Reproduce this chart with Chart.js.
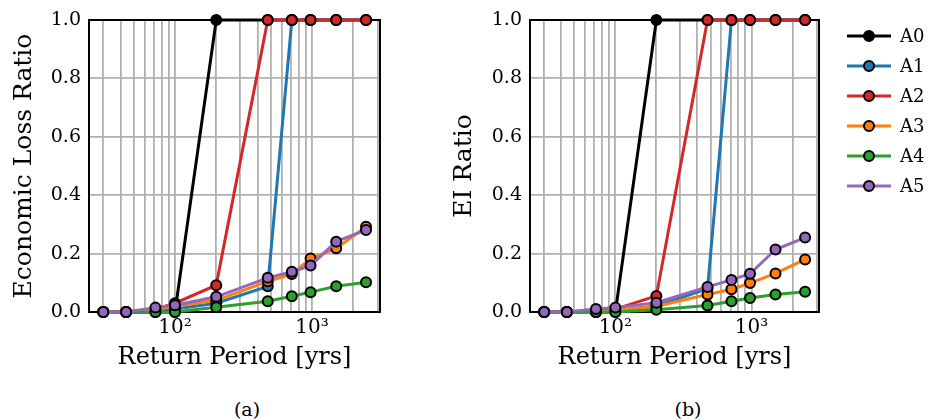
<!DOCTYPE html>
<html>
<head>
<meta charset="utf-8">
<script src="https://cdn.jsdelivr.net/npm/chart.js@4.4.1/dist/chart.umd.min.js"></script>
<style>
  html, body { margin: 0; padding: 0; background: #fff; }
  body { width: 931px; height: 420px; position: relative; overflow: hidden; font-family: "DejaVu Serif", serif; }
  canvas { position: absolute; top: 0; }
  #chartA { left: 0; }
  #chartB { left: 440px; }
  .caption { position: absolute; top: 398px; width: 60px; font-family: "DejaVu Serif", serif; font-size: 19px; line-height: 22px; text-align: center; color: #000; }
</style>
</head>
<body>
<canvas id="chartA" width="440" height="380"></canvas>
<canvas id="chartB" width="491" height="380"></canvas>
<div class="caption" style="left:217px">(a)</div>
<div class="caption" style="left:658px">(b)</div>
<script>
"use strict";

const returnPeriods = [30, 44, 72, 100, 200, 475, 712, 975, 1500, 2475];
const seriesNames = ["A0", "A1", "A2", "A3", "A4", "A5"];
const seriesColors = ["#000000", "#1f77b4", "#d62728", "#ff7f0e", "#2ca02c", "#9467bd"];

// (a) economic loss ratio
const lossA0 = [0, 0, 0, 0, 1, 1, 1, 1, 1, 1];
const lossA1 = [0, 0, 0, 0.01, 0.03, 0.088, 1, 1, 1, 1];
const lossA2 = [0, 0, 0.01, 0.03, 0.092, 1, 1, 1, 1, 1];
const lossA3 = [0, 0, 0.01, 0.02, 0.04, 0.105, 0.13, 0.183, 0.218, 0.292];
const lossA4 = [0, 0, 0, 0, 0.016, 0.037, 0.054, 0.068, 0.088, 0.102];
const lossA5 = [0, 0, 0.015, 0.023, 0.052, 0.117, 0.138, 0.159, 0.241, 0.281];

// (b) EI ratio
const eiA0 = [0, 0, 0, 0, 1, 1, 1, 1, 1, 1];
const eiA1 = [0, 0, 0, 0.005, 0.02, 0.08, 1, 1, 1, 1];
const eiA2 = [0, 0, 0.005, 0.01, 0.055, 1, 1, 1, 1, 1];
const eiA3 = [0, 0, 0, 0.005, 0.02, 0.06, 0.078, 0.099, 0.132, 0.18];
const eiA4 = [0, 0, 0, 0, 0.008, 0.022, 0.037, 0.048, 0.06, 0.069];
const eiA5 = [0, 0, 0.01, 0.015, 0.032, 0.086, 0.11, 0.131, 0.214, 0.255];

const xGridValues = [30, 40, 50, 60, 70, 80, 90, 100, 200, 300, 400, 500, 600, 700, 800, 900, 1000, 2000, 3000];
const xMajorValues = [100, 1000];
const xMajorLabels = ["10²", "10³"];
const yTickValues = [0, 0.2, 0.4, 0.6, 0.8, 1.0];

Chart.defaults.font.family = "'DejaVu Serif', serif";
Chart.defaults.color = "#000";

const framePlugin = {
  id: "frame",
  beforeDatasetsDraw(chart) {
    const { ctx, chartArea } = chart;
    ctx.save();
    ctx.strokeStyle = "#000";
    ctx.lineWidth = 2;
    ctx.strokeRect(chartArea.left, chartArea.top, chartArea.right - chartArea.left, chartArea.bottom - chartArea.top);
    ctx.restore();
  },
};

const legendPlugin = {
  id: "sideLegend",
  afterDraw(chart) {
    if (!chart.options.plugins.sideLegend || !chart.options.plugins.sideLegend.show) return;
    const ctx = chart.ctx;
    const x0 = chart.chartArea.right + 28;
    ctx.save();
    seriesNames.forEach(function (name, i) {
      const y = 36 + i * 30;
      ctx.strokeStyle = seriesColors[i];
      ctx.lineWidth = 3;
      ctx.beginPath();
      ctx.moveTo(x0, y);
      ctx.lineTo(x0 + 44, y);
      ctx.stroke();
      ctx.beginPath();
      ctx.arc(x0 + 22, y, 5, 0, Math.PI * 2);
      ctx.fillStyle = seriesColors[i];
      ctx.fill();
      ctx.lineWidth = 2;
      ctx.strokeStyle = "#000";
      ctx.stroke();
      ctx.fillStyle = "#000";
      ctx.font = "18px 'DejaVu Serif'";
      ctx.textBaseline = "middle";
      ctx.textAlign = "left";
      ctx.fillText(name, x0 + 53, y + 1);
    });
    ctx.restore();
  },
};

const makeChart = function (canvasId, yTitle, series, rightPad, yWidth, showLegend) {
  const datasets = series.map(function (values, i) {
    return {
      label: seriesNames[i],
      data: returnPeriods.map(function (rp, j) { return { x: rp, y: values[j] }; }),
      borderColor: seriesColors[i],
      backgroundColor: seriesColors[i],
      pointBackgroundColor: seriesColors[i],
      pointBorderColor: "#000",
      pointBorderWidth: 2,
      pointRadius: 5,
      borderWidth: 3,
      tension: 0,
      clip: false,
      order: seriesNames.length - 1 - i,
    };
  });

  return new Chart(document.getElementById(canvasId), {
    type: "line",
    data: { datasets: datasets },
    plugins: [framePlugin, legendPlugin],
    options: {
      responsive: false,
      animation: false,
      layout: { padding: { left: 0, top: 20, right: rightPad, bottom: 0 } },
      plugins: {
        legend: { display: false },
        tooltip: { enabled: false },
        sideLegend: { show: showLegend },
      },
      scales: {
        x: {
          type: "logarithmic",
          min: 23.6,
          max: 3130,
          afterBuildTicks(scale) {
            scale.ticks = xGridValues.map(function (v) {
              return { value: v, major: xMajorValues.indexOf(v) >= 0 };
            });
          },
          afterFit(scale) { scale.height = 68; },
          grid: { color: "#b0b0b0", lineWidth: 1.8, drawTicks: false },
          border: { display: false },
          ticks: {
            autoSkip: false,
            maxRotation: 0,
            padding: 4,
            font: { size: 20 },
            callback(value) {
              const k = xMajorValues.indexOf(value);
              return k >= 0 ? xMajorLabels[k] : "";
            },
          },
          title: { display: true, text: "Return Period [yrs]", font: { size: 24 }, padding: { top: 0, bottom: 8 } },
        },
        y: {
          min: 0,
          max: 1,
          afterBuildTicks(scale) {
            scale.ticks = yTickValues.map(function (v) { return { value: v }; });
          },
          afterFit(scale) { scale.width = yWidth; },
          grid: { color: "#b0b0b0", lineWidth: 1.8, drawTicks: false },
          border: { display: false },
          ticks: {
            padding: 8,
            font: { size: 19 },
            callback(value) { return value.toFixed(1); },
          },
          title: { display: true, text: yTitle, font: { size: 25 }, padding: { top: 9, bottom: 0 } },
        },
      },
    },
  });
};

makeChart("chartA", "Economic Loss Ratio", [lossA0, lossA1, lossA2, lossA3, lossA4, lossA5], 60, 89, false);
makeChart("chartB", "EI Ratio", [eiA0, eiA1, eiA2, eiA3, eiA4, eiA5], 112, 90, true);
</script>
</body>
</html>
